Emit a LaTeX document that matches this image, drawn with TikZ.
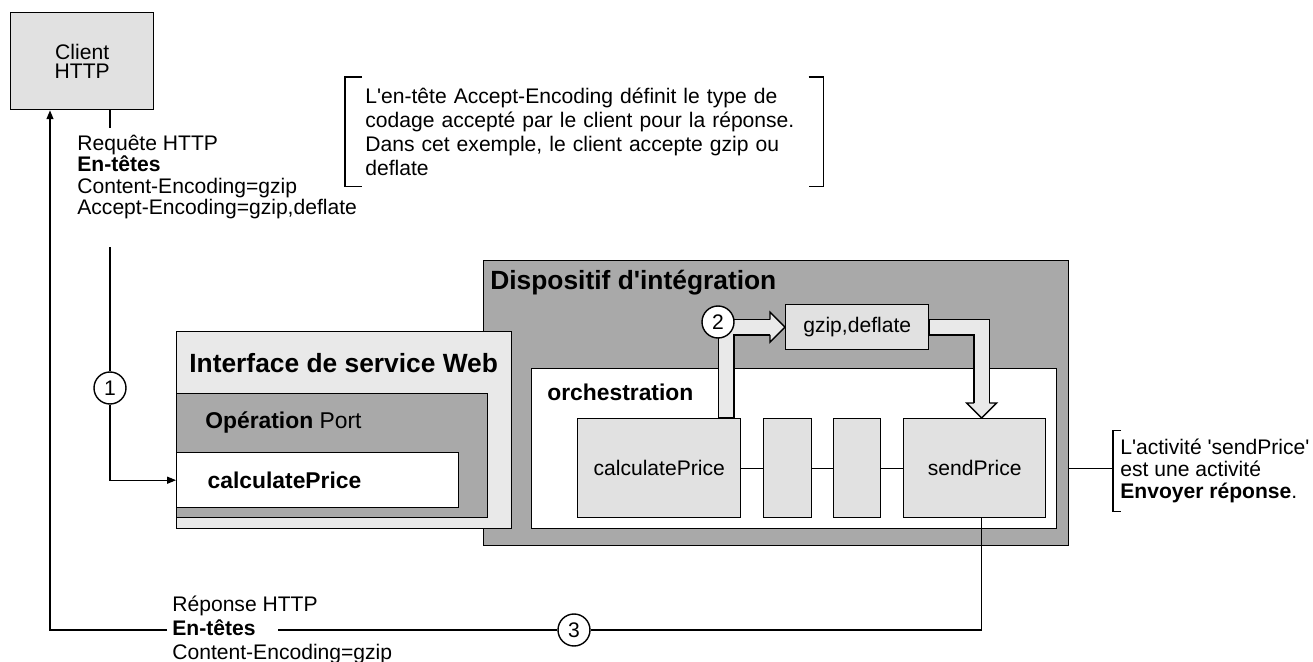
\documentclass[tikz,border=0pt]{standalone}
\usepackage{fontspec}
\setmainfont{Liberation Sans}[Ligatures=TeXOff]
\usetikzlibrary{arrows.meta, calc}

\definecolor{boxlight}{HTML}{E1E1E1}
\definecolor{boxpale}{HTML}{E9E9E9}
\definecolor{boxdark}{HTML}{A9A9A9}

\begin{document}
\begin{tikzpicture}[x=0.2mm, y=-0.2mm,
    box/.style={draw, line width=0.8pt, anchor=north west, inner sep=0pt, font=\fontsize{12}{12}\selectfont},
    act/.style={box, fill=boxlight, minimum height=1.98cm},
    title/.style={anchor=west, inner sep=0pt, font=\fontsize{15}{18}\selectfont\bfseries},
    note/.style={align=left, inner sep=0pt, font=\fontsize{12}{12}\selectfont},
    num/.style={circle, draw, line width=0.8pt, fill=white, minimum size=0.64cm, inner sep=0pt, font=\fontsize{12}{12}\selectfont},
    conn/.style={line width=0.6pt},
    arrowend/.style={-{Triangle[length=5pt, width=4pt]}},
    shaftout/.style={line width=0.336cm},
    shaftin/.style={line width=0.28cm, draw=boxpale},
    head/.style={fill=boxpale, draw, line width=0.8pt, line join=miter}
]
    \useasboundingbox (0,0) rectangle (1313,662);

    % client
    \node[box, fill=boxlight, minimum width=2.86cm, minimum height=1.94cm, align=center, font=\fontsize{12}{10.5}\selectfont] (client) at (10,12) {Client\\HTTP};

    % integration device and web service interface
    \node[box, fill=boxdark, minimum width=11.7cm, minimum height=5.7cm] (dispo) at (483,260) {};
    \node[title] (dispotitle) at (490,283) {Dispositif d'intégration};
    \node[box, fill=boxpale, minimum width=6.7cm, minimum height=3.94cm] (iface) at (176,331) {};
    \node[title] (ifacetitle) at (189,363) {Interface de service Web};
    \node[box, fill=boxdark, minimum width=6.22cm, minimum height=2.48cm] (opport) at (176,393) {};
    \node[anchor=west, inner sep=0pt, font=\fontsize{13}{13}\selectfont] (optitle) at (205,422) {\textbf{Opération} Port};
    \node[box, fill=white, text width=4.4cm, inner xsep=0.62cm, minimum height=1.1cm, align=left, font=\fontsize{13}{13}\selectfont\bfseries] (wscalc) at (176,452) {calculatePrice};

    % orchestration
    \node[box, fill=white, minimum width=10.5cm, minimum height=3.2cm] (orch) at (531,368) {};
    \node[anchor=west, inner sep=0pt, font=\fontsize{13}{13}\selectfont\bfseries] (orchtitle) at (547,392) {orchestration};
    \node[act, minimum width=3.26cm] (acalc) at (577,418) {calculatePrice};
    \node[act, minimum width=0.96cm] (aone) at (763,418) {};
    \node[act, minimum width=0.94cm] (atwo) at (833,418) {};
    \node[act, minimum width=2.84cm] (asend) at (903,418) {sendPrice};
    \draw[conn] (acalc) -- (aone) -- (atwo) -- (asend);

    \node[box, fill=boxlight, minimum width=2.86cm, minimum height=0.9cm] (gzip) at (785,304) {gzip,deflate};

    % block arrows
    \draw[shaftout] ($(acalc.north east)+(-15,0)$) |- ($(gzip.west)+(-15,0)$);
    \draw[shaftin] ($(acalc.north east)+(-15,-0.7)$) |- ($(gzip.west)+(-15,0)$);
    \filldraw[head] ($(gzip.west)+(-15,-7.7)$) -- ($(gzip.west)+(-15,-15)$) -- (gzip.west) -- ($(gzip.west)+(-15,15)$) -- ($(gzip.west)+(-15,7.7)$);
    \draw[shaftout] (gzip.east) -| ($(asend.north)+(7,-15)$);
    \draw[shaftin] ($(gzip.east)+(1,0)$) -| ($(asend.north)+(7,-15)$);
    \filldraw[head] ($(asend.north)+(-0.7,-15)$) -- ($(asend.north)+(-8,-15)$) -- ($(asend.north)+(7,0)$) -- ($(asend.north)+(22,-15)$) -- ($(asend.north)+(14.7,-15)$);

    \node[num] (c1) at (110,388) {1};
    \node[num] (c2) at (718,322) {2};
    \node[num] (c3) at (574,630) {3};

    % notes
    \node[note, anchor=north west, minimum height=2.18cm, text width=8.76cm, inner xsep=0.4cm, font=\fontsize{12}{13.5}\selectfont] (note1) at (345,77) {L'en-tête Accept-Encoding définit le type de\\codage accepté par le client pour la réponse.\\Dans cet exemple, le client accepte gzip ou\\deflate};
    \draw[conn] ($(note1.north west)+(17,0)$) -- (note1.north west) -- (note1.south west) -- ($(note1.south west)+(17,0)$);
    \draw[conn] ($(note1.north east)+(-15,0)$) -- (note1.north east) -- (note1.south east) -- ($(note1.south east)+(-15,0)$);

    \node[note, anchor=west, inner xsep=0.14cm, inner ysep=0.17cm, font=\fontsize{12}{12.5}\selectfont] (note2) at (1113,471) {L'activité 'sendPrice'\\est une activité\\\textbf{Envoyer réponse}.};
    \draw[conn] ($(note2.north west)+(8,0)$) -- (note2.north west) -- (note2.south west) -- ($(note2.south west)+(8,0)$);
    \draw[conn] (dispo.east |- asend) -- (note2.west |- asend);

    % request
    \node[note, anchor=west] (req) at (77,177) {Requête HTTP\\\textbf{En-têtes}\\Content-Encoding=gzip\\Accept-Encoding=gzip,deflate};
    \coordinate (reqtop) at (110,128);
    \coordinate (reqbot) at (110,247);
    \draw[conn] (client.south -| c1) -- (reqtop);
    \draw[conn] (reqbot) -- (c1);
    \draw[conn, arrowend] (c1) |- (wscalc.west);

    % response
    \node[note, anchor=west, font=\fontsize{12}{13.5}\selectfont] (resp) at (172,630) {Réponse HTTP\\\textbf{En-têtes}\\Content-Encoding=gzip};
    \coordinate (gapl) at (167,630);
    \coordinate (gapr) at (278,630);
    \draw[conn] ($(asend.south)+(7,0)$) |- (c3);
    \draw[conn] (c3) -- (gapr);
    \draw[conn, arrowend] (gapl) -| ($(client.south west)+(40,0)$);
\end{tikzpicture}
\end{document}
